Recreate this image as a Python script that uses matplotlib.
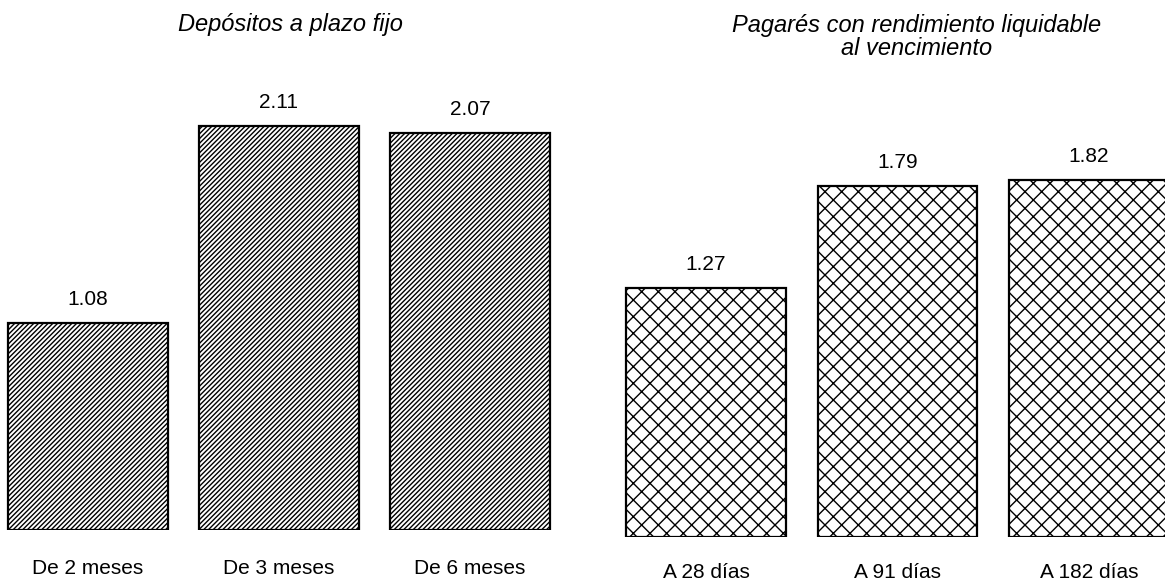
import matplotlib.pyplot as plt

plt.rcParams['font.family'] = ['Liberation Sans', 'DejaVu Sans']
plt.rcParams['hatch.linewidth'] = 1.0

depositos_cat = ['De 2 meses', 'De 3 meses', 'De 6 meses']
depositos_val = [1.08, 2.11, 2.07]

pagares_cat = ['A 28 días', 'A 91 días', 'A 182 días']
pagares_val = [1.27, 1.79, 1.82]

W, H = 1165, 585
fig = plt.figure(figsize=(W / 100, H / 100), dpi=100)


def panel(rect, cats, vals, hatch, ylim, lab_off):
    ax = fig.add_axes(rect)
    x = range(len(vals))
    bars = ax.bar(x, vals, width=0.835, color='white', edgecolor='black',
                  linewidth=1.6, hatch=hatch)
    for b, v in zip(bars, vals):
        ax.annotate(f'{v:.2f}', (b.get_x() + b.get_width() / 2, v),
                    xytext=(0, 17), textcoords='offset points',
                    ha='center', va='center', fontsize=15)
    for i, c in zip(x, cats):
        ax.annotate(c, (i, 0), xytext=(0, -lab_off), textcoords='offset points',
                    ha='center', va='center', fontsize=15)
    ax.set_xlim(-0.45, 2.5)
    ax.set_ylim(*ylim)
    ax.axis('off')
    return ax


# left panel: zero line at y=530px, 191.6 px per unit, bar spacing 191 px
panel([2 / W, 55 / H, 2.95 * 191 / W, 2.5 * 191.6 / H],
      depositos_cat, depositos_val, '///////', (0, 2.5), 27.5)

# right panel: zero line at y=537px, 196 px per unit
panel([(706 - 0.45 * 191.5) / W, 48 / H, 2.95 * 191.5 / W, 2.2 * 196 / H],
      pagares_cat, pagares_val, 'xx', (0, 2.2), 25.5)

fig.text(290 / W, 1 - 25 / H, 'Depósitos a plazo fijo', ha='center',
         va='center', fontsize=17, style='italic')
fig.text(917 / W, 1 - 37 / H, 'Pagarés con rendimiento liquidable\nal vencimiento',
         ha='center', va='center', fontsize=17, style='italic', linespacing=0.95)

fig.savefig('out.png', dpi=100)
